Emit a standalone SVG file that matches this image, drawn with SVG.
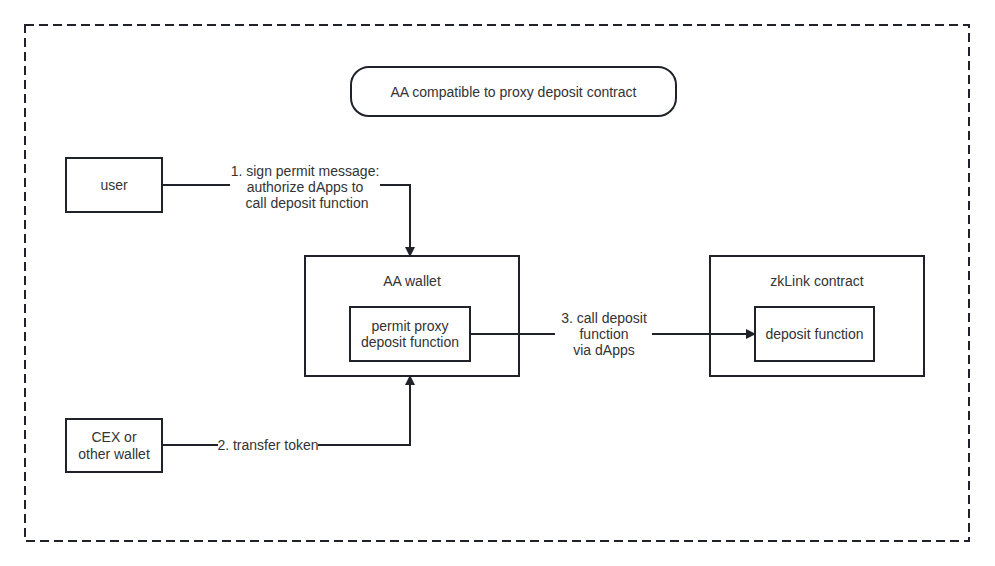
<svg xmlns="http://www.w3.org/2000/svg" width="995" height="566" viewBox="0 0 995 566">
<defs>
<style>
.box{fill:#fff;stroke:#1f2329;stroke-width:2}
.t{font-family:"Liberation Sans",Arial,sans-serif;font-size:14px;fill:#333;text-anchor:middle;dominant-baseline:central}
.ln{fill:none;stroke:#1f2329;stroke-width:2}
</style>
<marker id="arr" viewBox="0 0 10 10" refX="9" refY="5" markerWidth="10" markerHeight="10" markerUnits="userSpaceOnUse" orient="auto">
<path d="M0,0 L10,5 L0,10 z" fill="#1f2329"/>
</marker>
</defs>
<rect x="0" y="0" width="995" height="566" fill="#fff"/>
<rect id="frame" x="25" y="25" width="944" height="516" fill="none" stroke="#1f2329" stroke-width="2" stroke-dasharray="9 5"/>
<g id="title">
<rect class="box" x="351" y="67" width="325" height="49" rx="18"/>
<text class="t" x="513.5" y="92">AA compatible to proxy deposit contract</text>
</g>
<g id="user">
<rect class="box" x="66" y="158" width="96" height="54"/>
<text class="t" x="114" y="185">user</text>
</g>
<g id="cex">
<rect class="box" x="66" y="419" width="96" height="53"/>
<text class="t" x="114" y="437">CEX or</text>
<text class="t" x="114" y="454">other wallet</text>
</g>
<g id="aawallet">
<rect class="box" x="305" y="256" width="214" height="120"/>
<text class="t" x="412" y="281">AA wallet</text>
</g>
<g id="permit">
<rect class="box" x="350" y="307" width="120" height="54"/>
<text class="t" x="410" y="326">permit proxy</text>
<text class="t" x="410" y="342">deposit function</text>
</g>
<g id="zklink">
<rect class="box" x="710" y="256" width="214" height="120"/>
<text class="t" x="817" y="281">zkLink contract</text>
</g>
<g id="deposit">
<rect class="box" x="755" y="307" width="119" height="54"/>
<text class="t" x="814.5" y="334">deposit function</text>
</g>
<g id="connectors">
<path class="ln" d="M162,185 H410 V256" marker-end="url(#arr)"/>
<rect x="230" y="163" width="150" height="48" fill="#fff"/>
<text class="t" x="305" y="171">1. sign permit message:</text>
<text class="t" x="305" y="187">authorize dApps to</text>
<text class="t" x="307" y="203">call deposit function</text>
<path class="ln" d="M162,445 H410 V376" marker-end="url(#arr)"/>
<rect x="218" y="437" width="100" height="16" fill="#fff"/>
<text class="t" x="268" y="445">2. transfer token</text>
<path class="ln" d="M470,334 H755" marker-end="url(#arr)"/>
<rect x="555" y="310" width="97" height="48" fill="#fff"/>
<text class="t" x="604" y="318">3. call deposit</text>
<text class="t" x="604" y="334">function</text>
<text class="t" x="604" y="350">via dApps</text>
</g>
</svg>
